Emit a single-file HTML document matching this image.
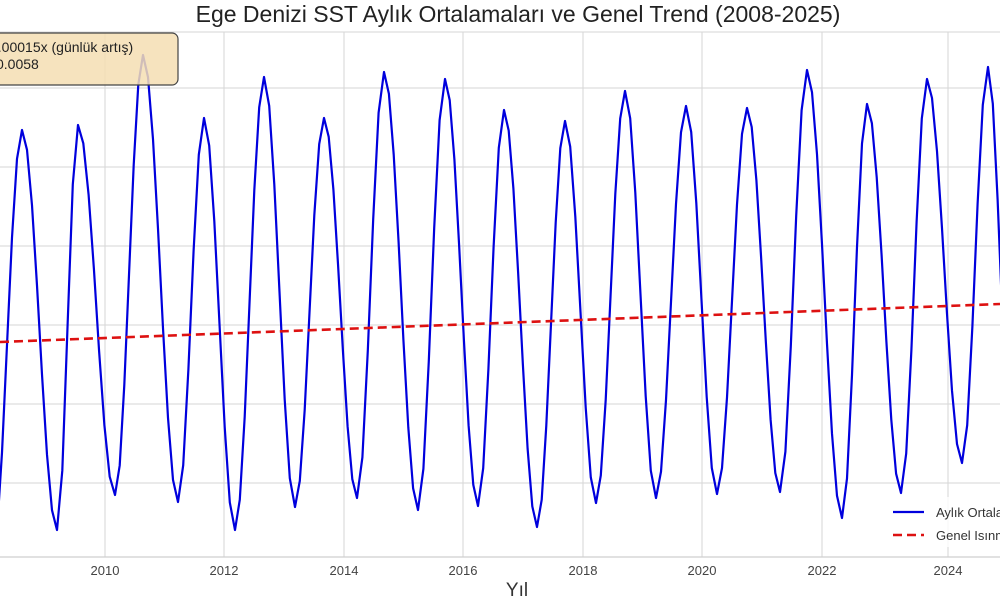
<!DOCTYPE html>
<html><head><meta charset="utf-8"><style>
html,body{margin:0;padding:0;background:#fff;width:1000px;height:600px;overflow:hidden}
text{font-family:"Liberation Sans",sans-serif}
</style></head><body>
<svg id="s" width="1000" height="600" xmlns="http://www.w3.org/2000/svg">
<rect width="1000" height="600" fill="#fff"/>
<g stroke="#d6d6d6" stroke-width="1">
<line x1="0" y1="32" x2="1000" y2="32"/>
<line x1="0" y1="88" x2="1000" y2="88"/>
<line x1="0" y1="167" x2="1000" y2="167"/>
<line x1="0" y1="246" x2="1000" y2="246"/>
<line x1="0" y1="325" x2="1000" y2="325"/>
<line x1="0" y1="404" x2="1000" y2="404"/>
<line x1="0" y1="483" x2="1000" y2="483"/>
<line x1="105" y1="32" x2="105" y2="557"/>
<line x1="224" y1="32" x2="224" y2="557"/>
<line x1="344" y1="32" x2="344" y2="557"/>
<line x1="463" y1="32" x2="463" y2="557"/>
<line x1="583" y1="32" x2="583" y2="557"/>
<line x1="702" y1="32" x2="702" y2="557"/>
<line x1="822" y1="32" x2="822" y2="557"/>
<line x1="948" y1="32" x2="948" y2="557"/>
</g>
<line x1="0" y1="557" x2="1000" y2="557" stroke="#cfcfcf" stroke-width="1.2"/>
<g font-size="13" fill="#444" text-anchor="middle">
<text x="105" y="575">2010</text><text x="224" y="575">2012</text><text x="344" y="575">2014</text>
<text x="463" y="575">2016</text><text x="583" y="575">2018</text><text x="702" y="575">2020</text>
<text x="822" y="575">2022</text><text x="948" y="575">2024</text>
</g>
<text x="517" y="596" font-size="19" fill="#333" text-anchor="middle">Yıl</text>
<text x="518" y="22" font-size="23" fill="#222" text-anchor="middle">Ege Denizi SST Aylık Ortalamaları ve Genel Trend (2008-2025)</text>
<path id="p" fill="none" stroke="#0000dd" stroke-width="2.2" stroke-linejoin="round"/>
<line x1="0" y1="342" x2="1000" y2="304" stroke="#dd1111" stroke-width="2.6" stroke-dasharray="9,5"/>
<rect x="-20" y="33" width="198" height="52" rx="6" fill="#f5deb3" fill-opacity="0.85" stroke="#444" stroke-width="1.2"/>
<text x="-10" y="52" font-size="14" fill="#222">0.00015x (günlük artış)</text>
<text x="-4" y="69" font-size="14" fill="#222">0.0058</text>
<rect x="882" y="497" width="130" height="50" fill="#fff" fill-opacity="0.8"/>
<line x1="893" y1="512" x2="924" y2="512" stroke="#0000dd" stroke-width="2.2"/>
<line x1="893" y1="535" x2="924" y2="535" stroke="#dd1111" stroke-width="2.6" stroke-dasharray="9,5"/>
<text x="936" y="517" font-size="13" fill="#333">Aylık Ortalama</text>
<text x="936" y="540" font-size="13" fill="#333">Genel Isınma Trendi</text>
</svg>
<script>
var pts=[[-8,560],[22,130],[57,530],[78,125],[115,495],[143,55],[178,502],[204,118],[235,530],[264,77],[295,507],[324,118],[357,498],[384,72],[418,510],[445,79],[478,506],[504,110],[537,527],[565,121],[596,503],[625,91],[656,498],[686,106],[717,494],[747,108],[780,492],[807,70],[842,518],[867,104],[901,493],[927,79],[962,463],[988,67],[1012,450]];
var d="";
for(var i=0;i<pts.length-1;i++){var a=pts[i],b=pts[i+1];var n=Math.max(2,Math.round((b[0]-a[0])/5));
for(var k=(i==0?0:1);k<=n;k++){var t=k/n;var e=(1-Math.cos(Math.PI*t))/2;var x=a[0]+(b[0]-a[0])*t;var y=a[1]+(b[1]-a[1])*e;d+=(d?"L":"M")+x.toFixed(1)+","+y.toFixed(1);}}
document.getElementById("p").setAttribute("d",d);
</script>
</body></html>
